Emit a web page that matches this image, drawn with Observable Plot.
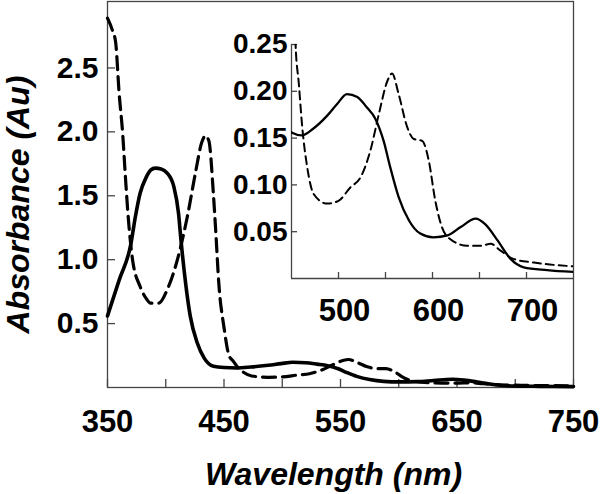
<!DOCTYPE html>
<html><head><meta charset="utf-8">
<script src="https://cdn.jsdelivr.net/npm/d3@7"></script>
<script src="https://cdn.jsdelivr.net/npm/@observablehq/plot@0.6"></script>
<style>
body{margin:0;background:#fff;}
#wrap{position:relative;width:600px;height:494px;}
#wrap svg{position:absolute;left:0;top:0;}
</style></head><body><div id="wrap"></div>
<script>
// Solid spectrum
const solidNm  = [350,360,370,374,378,383,387,391,396,401,407,411,413,417,421,427,433,441,450,461,473,488,499,509,520,530,539,548,555,564,575,587,601,616,630,646,656,669,683,697,722,750];
const solidAbs = [0.56,0.84,1.12,1.34,1.52,1.64,1.70,1.716,1.71,1.68,1.57,1.36,1.16,0.82,0.56,0.35,0.23,0.166,0.156,0.153,0.160,0.174,0.187,0.197,0.194,0.183,0.171,0.147,0.119,0.087,0.062,0.048,0.044,0.046,0.055,0.064,0.058,0.041,0.021,0.012,0.009,0.007];
// Dashed spectrum
const dashedNm  = [350,354,357,360,363,365.5,368,371.5,378,383,387,394,401.5,410,418.6,425.5,431,434,437,441,443,445.5,450,454.3,457.8,461.4,466.7,473.7,488,500,512.8,523.4,534,543,552,557,564,573,580,589,596,603,610,619,637,651,662,672,686,708,750];
const dashedAbs = [2.89,2.80,2.70,2.30,1.99,1.63,1.31,1.00,0.79,0.70,0.66,0.66,0.77,1.00,1.34,1.68,1.92,1.97,1.93,1.50,1.21,0.82,0.47,0.251,0.208,0.162,0.119,0.090,0.080,0.083,0.0975,0.108,0.137,0.176,0.211,0.219,0.197,0.162,0.149,0.147,0.126,0.083,0.055,0.042,0.035,0.035,0.037,0.030,0.021,0.017,0.013];

const mainXTicks  = [350,400,450,500,550,600,650,700,750];
const mainXLabels = [350,450,550,650,750];
const mainYTicks  = [0.5,1.0,1.5,2.0,2.5];
const insetXTicks  = [500,550,600,650,700];
const insetXLabels = [500,600,700];
const insetYTicks  = [0.05,0.10,0.15,0.20,0.25];
const xTitle = "Wavelength (nm)";
const yTitle = "Absorbance (Au)";

const solid  = solidNm.map((x,i)=>({x, y: solidAbs[i]}));
const dashed = dashedNm.map((x,i)=>({x, y: dashedAbs[i]}));

const font = "'Liberation Sans', Arial, Helvetica, sans-serif";
const axisColor = "#444";

const mainInnerH = 494-1-107, mainInnerW = 600-107-27;
const main = Plot.plot({
  width:600, height:494, marginLeft:107, marginRight:27, marginTop:1, marginBottom:107,
  style:{fontFamily:font, background:"transparent", overflow:"visible", color:"#000"},
  x:{domain:[350,750]}, y:{domain:[0,3.02]},
  marks:[
    Plot.frame({stroke:axisColor, strokeWidth:1.3}),
    Plot.tickX(mainXTicks, {x:d=>d, insetTop: mainInnerH-8, stroke:axisColor, strokeWidth:1.3}),
    Plot.tickY(mainYTicks, {y:d=>d, insetRight: mainInnerW-8, stroke:axisColor, strokeWidth:1.3}),
    Plot.axisX(mainXLabels, {tickSize:0, tickPadding:22, fontSize:31, fontWeight:"bold", label:null}),
    Plot.axisY(mainYTicks, {tickSize:0, tickPadding:9, fontSize:30, fontWeight:"bold", label:null, tickFormat:d3.format(".1f")}),
    Plot.line(dashed, {x:"x", y:"y", curve:"monotone-x", stroke:"#000", strokeWidth:3.2, strokeDasharray:"13,7"}),
    Plot.line(solid, {x:"x", y:"y", curve:"monotone-x", stroke:"#000", strokeWidth:3.6}),
    Plot.text([xTitle], {text:d=>d, frameAnchor:"bottom", textAnchor:"middle", lineAnchor:"middle", dy:87, dx:-7, fontSize:32, fontWeight:"bold", fontStyle:"italic", fill:"#000"}),
    Plot.text([yTitle], {text:d=>d, frameAnchor:"left", textAnchor:"middle", lineAnchor:"middle", rotate:-90, dx:-89, dy:10, fontSize:32, fontWeight:"bold", fontStyle:"italic", fill:"#000"})
  ]
});

const insetInnerH = 494-44-216, insetInnerW = 600-291-27;
const inset = Plot.plot({
  width:600, height:494, marginLeft:291, marginRight:27, marginTop:44, marginBottom:216,
  style:{fontFamily:font, background:"transparent", overflow:"visible", color:"#000"},
  x:{domain:[450,750]}, y:{domain:[0,0.25]},
  marks:[
    Plot.ruleX([450], {stroke:axisColor, strokeWidth:1.3}),
    Plot.ruleY([0], {stroke:axisColor, strokeWidth:1.3}),
    Plot.tickX(insetXTicks, {x:d=>d, insetTop: insetInnerH-6, stroke:axisColor, strokeWidth:1.3}),
    Plot.tickY(insetYTicks, {y:d=>d, insetRight: insetInnerW-6, stroke:axisColor, strokeWidth:1.3}),
    Plot.axisX(insetXLabels, {tickSize:0, tickPadding:20, dx:6, fontSize:31, fontWeight:"bold", label:null}),
    Plot.axisY(insetYTicks, {tickSize:0, tickPadding:4, fontSize:28, fontWeight:"bold", label:null, tickFormat:d3.format(".2f")}),
    Plot.line(dashed, {x:"x", y:"y", curve:"monotone-x", stroke:"#000", strokeWidth:2, strokeDasharray:"8,5", clip:true}),
    Plot.line(solid, {x:"x", y:"y", curve:"monotone-x", stroke:"#000", strokeWidth:2.3, clip:true})
  ]
});

const wrap = document.getElementById("wrap");
wrap.appendChild(main);
wrap.appendChild(inset);
</script></body></html>
